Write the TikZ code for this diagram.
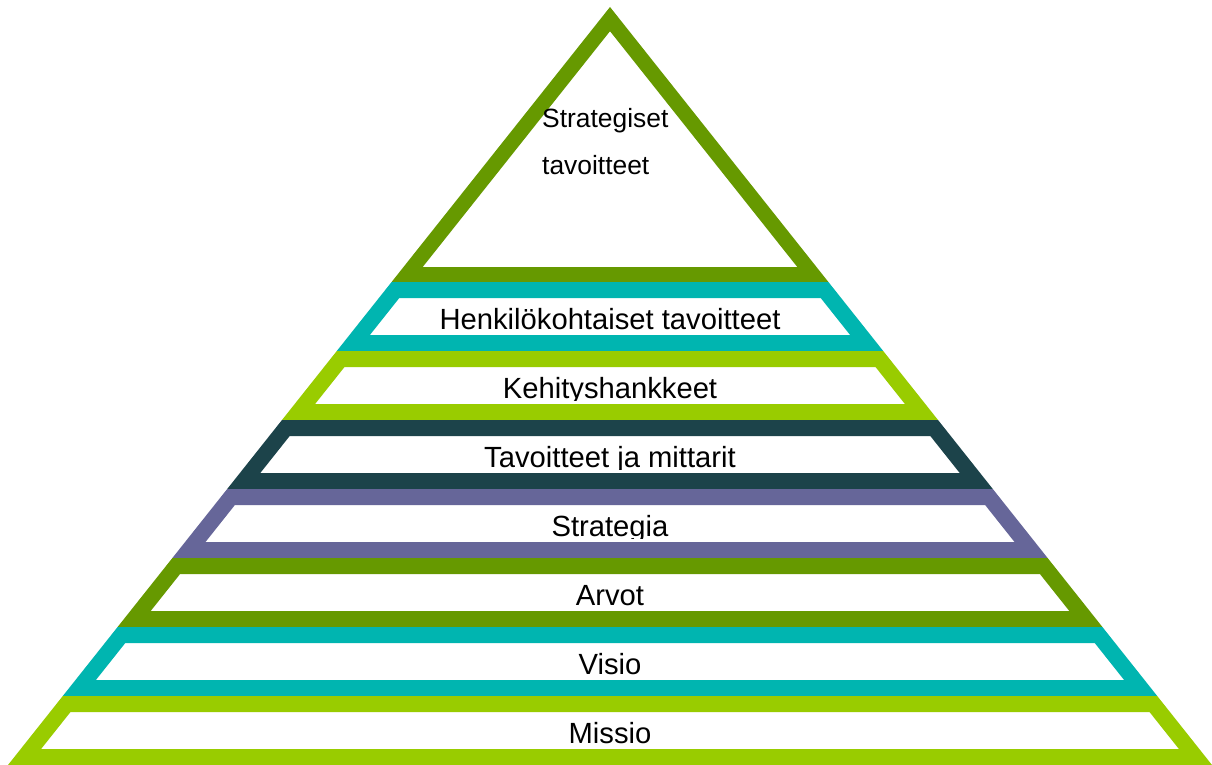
\documentclass[tikz,border=0pt]{standalone}
\usepackage{fontspec}
\setmainfont{Liberation Sans}
\definecolor{pyolive}{HTML}{669900}
\definecolor{pyteal}{HTML}{00B5B0}
\definecolor{pylime}{HTML}{99CC00}
\definecolor{pydark}{HTML}{1C434A}
\definecolor{pypurple}{HTML}{666699}
\newcommand{\pyrband}[5]{%
  \pgfmathsetmacro\pyOT{0.7942*(#1-7)}%
  \pgfmathsetmacro\pyOB{0.7942*(#2-7)}%
  \pgfmathsetmacro\pyTI{#1+16}%
  \pgfmathsetmacro\pyBI{#2-16}%
  \pgfmathsetmacro\pyIT{0.7942*(\pyTI-7)-20.4}%
  \pgfmathsetmacro\pyIB{0.7942*(\pyBI-7)-20.4}%
  \fill[white] (610-\pyIT,\pyTI) -- (610+\pyIT,\pyTI) -- (610+\pyIB,\pyBI) -- (610-\pyIB,\pyBI) -- cycle;
  \begin{scope}
    \clip (0,#1) rectangle (1212,#2-19.3);
    \node[bandtext] (#4) at (610,#2-21.5) {#5};
  \end{scope}
  \fill[#3,even odd rule] (610-\pyOT,#1) -- (610+\pyOT,#1) -- (610+\pyOB,#2) -- (610-\pyOB,#2) -- cycle
    (610-\pyIT,\pyTI) -- (610+\pyIT,\pyTI) -- (610+\pyIB,\pyBI) -- (610-\pyIB,\pyBI) -- cycle;
}
\begin{document}
\begin{tikzpicture}[x=1pt,y=-1pt,
  bandtext/.style={anchor=base,inner sep=0pt,font=\fontsize{29.2}{35}\selectfont,text=black},
  tritext/.style={anchor=base west,inner sep=0pt,font=\fontsize{26.4}{32}\selectfont,text=black}]
\useasboundingbox (0,0) rectangle (1212,765);
\fill[white] (0,0) rectangle (1212,765);
% top triangle
\fill[pyolive,even odd rule] (610,7) -- (828.4,282) -- (391.6,282) -- cycle
  (610,31.2) -- (797.3,267) -- (422.7,267) -- cycle;
\node[tritext] (tri1) at (542,128) {Strategiset};
\node[tritext] (tri2) at (542,174) {tavoitteet};
% bands
\pyrband{282}{351}{pyteal}{henk}{Henkilökohtaiset tavoitteet}
\pyrband{351}{420}{pylime}{kehi}{Kehityshankkeet}
\pyrband{420}{489}{pydark}{tavo}{Tavoitteet ja mittarit}
\pyrband{489}{558}{pypurple}{stra}{Strategia}
\pyrband{558}{627}{pyolive}{arvo}{Arvot}
\pyrband{627}{696}{pyteal}{visi}{Visio}
\pyrband{696}{765}{pylime}{miss}{Missio}
\end{tikzpicture}
\end{document}
